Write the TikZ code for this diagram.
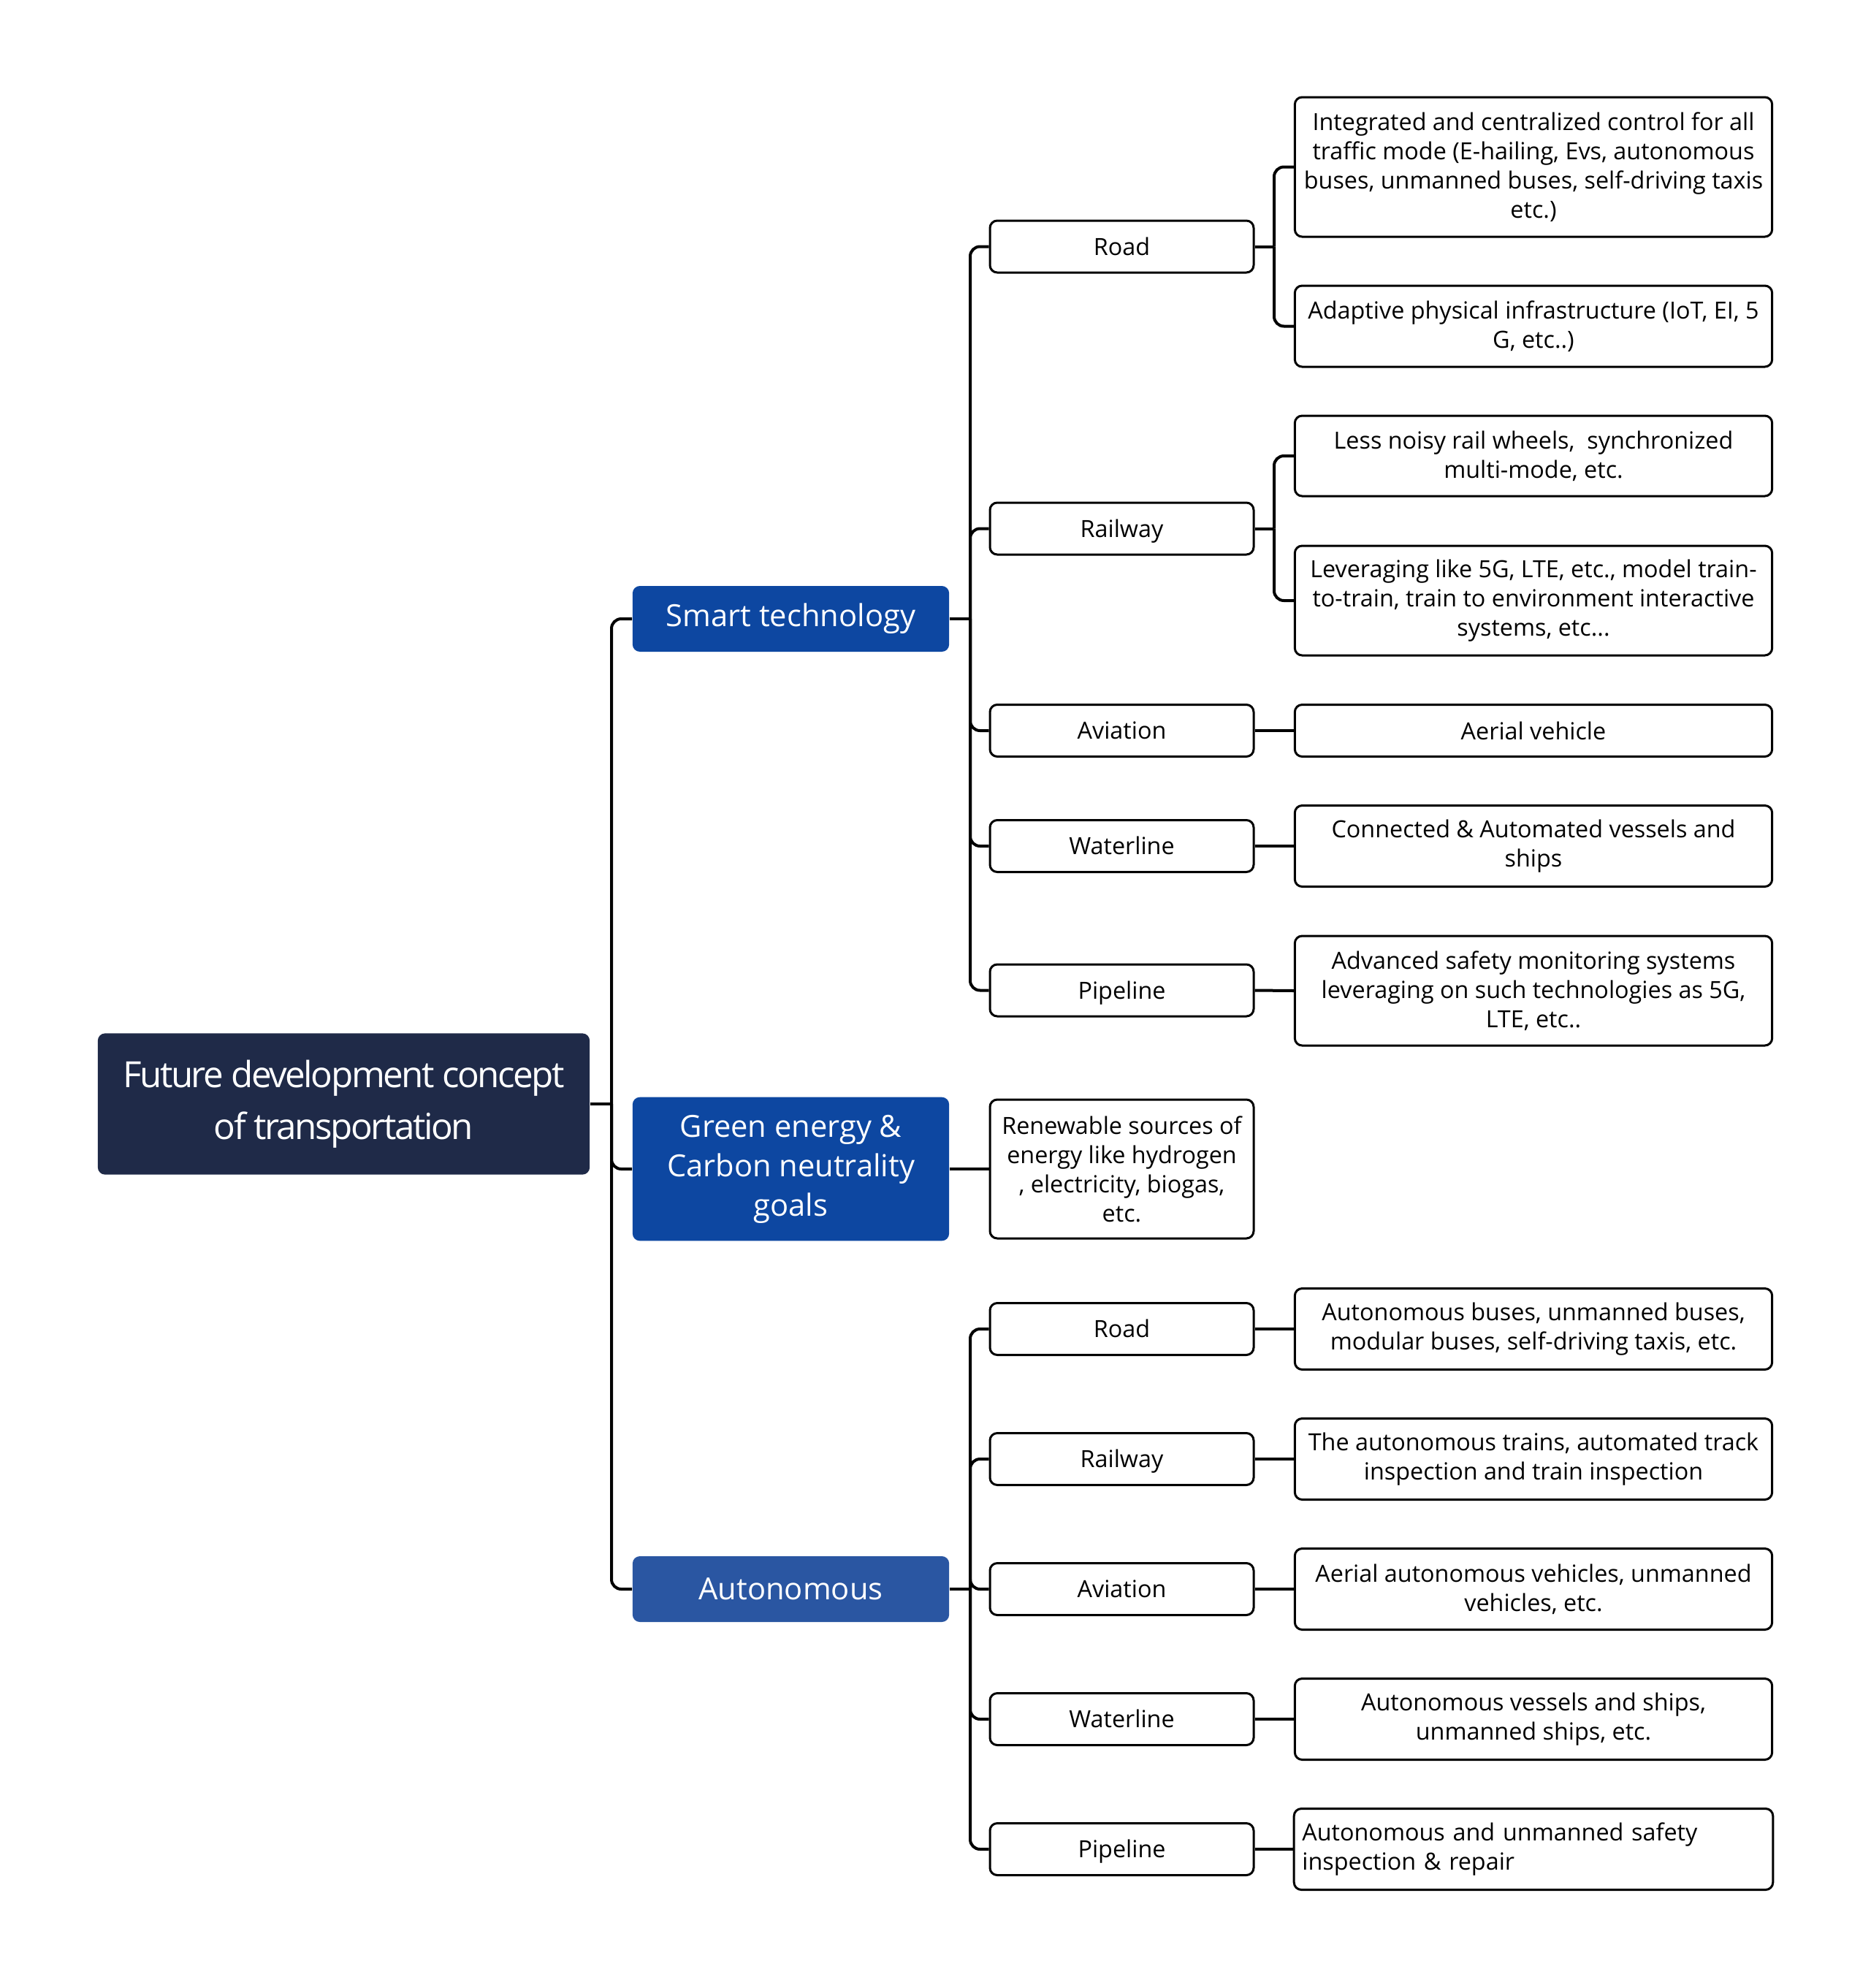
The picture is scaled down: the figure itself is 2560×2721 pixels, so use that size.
\documentclass[tikz,border=0pt]{standalone}
\usepackage{fontspec}
\setmainfont{Open Sans}
\usetikzlibrary{positioning}
\definecolor{rootnavy}{HTML}{1F2A48}
\definecolor{topicblue}{HTML}{0D47A1}
\definecolor{autoblue}{HTML}{2A56A2}

\begin{document}
\begin{tikzpicture}[x=0.3pt, y=-0.3pt,
      root/.style={fill=rootnavy, rounded corners=3pt, text=white, align=center,
        minimum width=202pt, minimum height=58pt,
        font=\fontsize{14.8}{21.3}\selectfont\addfontfeatures{LetterSpace=-5}},
      topic/.style={fill=topicblue, rounded corners=3pt, text=white, align=center,
        minimum width=130pt, minimum height=27pt, font=\fontsize{12.5}{16.2}\selectfont},
      sub/.style={draw, line width=0.9pt, rounded corners=3pt, align=center,
        minimum width=108.3pt, minimum height=21.3pt, text height=6.9pt, text depth=0pt,
        font=\fontsize{9.7}{12}\selectfont},
      leaf/.style={draw, line width=0.9pt, rounded corners=3pt, align=center,
        minimum width=196pt, minimum height=#1, font=\fontsize{9.7}{12}\selectfont},
      leaf/.default=21.3pt,
      conn/.style={line width=1.2pt, rounded corners=4pt}]
    \useasboundingbox (0,0) rectangle (2560,2721);

    \node[root] (root) at (470.5,1511) {Future development concept\\of transportation};

    \node[topic] (smart) at (1082.5,847) {Smart technology};
    \node[topic, minimum height=59pt] (green) at (1082.5,1600) {Green energy \&\\Carbon neutrality\\goals};
    \node[topic, fill=autoblue] (auton) at (1082.5,2175) {Autonomous};

    \node[sub] (sroad) at (1535.5,337.5) {Road};
    \node[sub] (srail) at (1535.5,723.5) {Railway};
    \node[sub] (sair) at (1535.5,1000) {Aviation};
    \node[sub] (swater) at (1535.5,1158) {Waterline};
    \node[sub] (spipe) at (1535.5,1355.5) {Pipeline};

    \node[leaf=57pt, minimum width=108.3pt] (renew) at (1535.5,1600) {Renewable sources of\\energy like hydrogen\\, electricity, biogas,\\etc.};

    \node[sub] (aroad) at (1535.5,1819) {Road};
    \node[sub] (arail) at (1535.5,1997) {Railway};
    \node[sub] (aair) at (1535.5,2175) {Aviation};
    \node[sub] (awater) at (1535.5,2353) {Waterline};
    \node[sub] (apipe) at (1535.5,2531) {Pipeline};

    \node[leaf=57.3pt] (sroad1) at (2099,228.5) {Integrated and centralized control for all\\traffic mode (E-hailing, Evs, autonomous\\buses, unmanned buses, self-driving taxis\\etc.)};
    \node[leaf=33.3pt] (sroad2) at (2099,446.5) {Adaptive physical infrastructure (IoT, EI, 5\\G, etc..)};
    \node[leaf=33pt] (srail1) at (2099,624) {Less noisy rail wheels,\ \ synchronized\\multi-mode, etc.};
    \node[leaf=45pt] (srail2) at (2099,822) {Leveraging like 5G, LTE, etc., model train-\\to-train, train to environment interactive\\systems, etc...};
    \node[leaf] (sair1) at (2099,1000) {Aerial vehicle};
    \node[leaf=33.3pt] (swater1) at (2099,1158) {Connected \& Automated vessels and\\ships};
    \node[leaf=45pt] (spipe1) at (2099,1356) {Advanced safety monitoring systems\\leveraging on such technologies as 5G,\\LTE, etc..};

    \node[leaf=33.3pt] (aroad1) at (2099,1819) {Autonomous buses, unmanned buses,\\modular buses, self-driving taxis, etc.};
    \node[leaf=33.3pt] (arail1) at (2099,1997) {The autonomous trains, automated track\\inspection and train inspection};
    \node[leaf=33.3pt] (aair1) at (2099,2175) {Aerial autonomous vehicles, unmanned\\vehicles, etc.};
    \node[leaf=33.3pt] (awater1) at (2099,2353) {Autonomous vessels and ships,\\unmanned ships, etc.};
    \node[leaf=33.3pt, align=left, text width=190pt] (apipe1) at (2099,2531) {Autonomous and unmanned safety\\inspection \& repair};

    \coordinate (j0) at (837,1511);
    \coordinate (j1) at (1328,847);
    \coordinate (j2) at (1744,337.5);
    \coordinate (j3) at (1744,723.5);
    \coordinate (j4) at (1328,2175);

    \draw[conn] (root.east) -- (j0);
    \foreach \c in {smart,green,auton}
      \draw[conn] (j0) |- (\c.west);

    \draw[conn] (smart.east) -- (j1);
    \foreach \c in {sroad,srail,sair,swater,spipe}
      \draw[conn] (j1) |- (\c.west);

    \draw[conn] (sroad.east) -- (j2);
    \foreach \c in {sroad1,sroad2}
      \draw[conn] (j2) |- (\c.west);
    \draw[conn] (srail.east) -- (j3);
    \foreach \c in {srail1,srail2}
      \draw[conn] (j3) |- (\c.west);
    \foreach \a/\b in {sair/sair1,swater/swater1,spipe/spipe1}
      \draw[conn] (\a.east) -- (\b.west);

    \draw[conn] (green.east) -- (renew.west);

    \draw[conn] (auton.east) -- (j4);
    \foreach \c in {aroad,arail,aair,awater,apipe}
      \draw[conn] (j4) |- (\c.west);
    \foreach \a/\b in {aroad/aroad1,arail/arail1,aair/aair1,awater/awater1,apipe/apipe1}
      \draw[conn] (\a.east) -- (\b.west);
  \end{tikzpicture}
\end{document}
